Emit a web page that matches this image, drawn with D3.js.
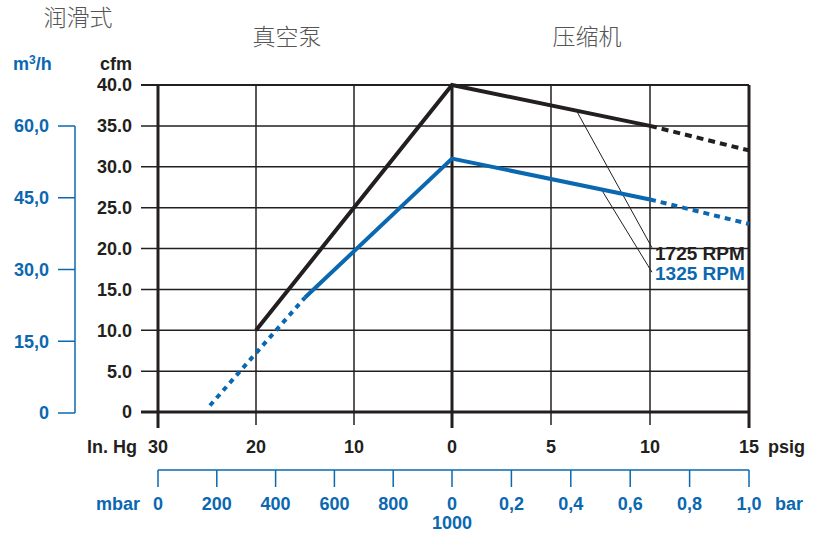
<!DOCTYPE html>
<html><head><meta charset="utf-8">
<script src="https://cdn.jsdelivr.net/npm/d3@7"></script>
<style>
html,body{margin:0;padding:0;background:#fff;}
svg text{font-family:"Liberation Sans",Arial,sans-serif;}
</style></head>
<body><svg id="c" width="822" height="535"></svg>
<script>
// ---- data ----
const cfmTicks = [0, 5, 10, 15, 20, 25, 30, 35, 40];
const m3hTicks = [0, 15, 30, 45, 60];
const m3hLabels = ["0", "15,0", "30,0", "45,0", "60,0"];
const inHgTicks = [30, 20, 10, 0];
const psigTicks = [0, 5, 10, 15];
const mbarTicks = [0, 200, 400, 600, 800, 1000];
const mbarLabels = ["0", "200", "400", "600", "800", "0"];
const barTicks = [0, 0.2, 0.4, 0.6, 0.8, 1.0];
const barLabels = ["0", "0,2", "0,4", "0,6", "0,8", "1,0"];
const titles = ["润滑式", "真空泵", "压缩机"];
// series: side 'v' = vacuum (In. Hg), 'p' = pressure (psig)
const rpm1725Solid = [{s:"v",x:20,y:10},{s:"v",x:0,y:40},{s:"p",x:10,y:35}];
const rpm1725Dash  = [{s:"p",x:10,y:35},{s:"p",x:15,y:32}];
const rpm1325DashV = [{s:"v",x:24.7,y:0.8},{s:"v",x:15,y:14}];
const rpm1325Solid = [{s:"v",x:15,y:14},{s:"v",x:0,y:31},{s:"p",x:10,y:26}];
const rpm1325DashP = [{s:"p",x:10,y:26},{s:"p",x:15,y:23}];
const seriesNames = ["1725 RPM", "1325 RPM"];
const leaderFrom = [{s:"p",x:6.3,y:36.8},{s:"p",x:7.6,y:27.0}];
const leaderTo = [{s:"p",x:10.1,y:20.1},{s:"p",x:10.1,y:17.1}];

// ---- setup ----
const BLACK = "#231f20", BLUE = "#0a68b1";
const svg = d3.select("#c");
const y = d3.scaleLinear().domain([0, 40]).range([412, 85]);
const xV = d3.scaleLinear().domain([30, 0]).range([158, 452]);
const xP = d3.scaleLinear().domain([0, 15]).range([452, 749]);
const yM = d3.scaleLinear().domain([0, 60]).range([413, 126]);
const xMbar = d3.scaleLinear().domain([0, 1000]).range([158, 452]);
const xBar = d3.scaleLinear().domain([0, 1]).range([452, 749]);
const px = d => d.s === "v" ? xV(d.x) : xP(d.x);
const FS = 18;

// horizontal grid lines + left labels
const g = svg.append("g");
cfmTicks.forEach(t => {
  g.append("line").attr("x1", 141).attr("x2", 749).attr("y1", y(t)).attr("y2", y(t))
    .attr("stroke", BLACK).attr("stroke-width", t === 0 ? 3 : (t === 40 ? 2.2 : 1.5));
  g.append("text").attr("x", 132).attr("y", y(t)).attr("dy", "0.36em")
    .attr("text-anchor", "end").attr("font-size", FS).attr("font-weight", "bold")
    .attr("fill", BLACK).text(t === 0 ? "0" : t.toFixed(1));
});
// vertical grid lines
inHgTicks.forEach(t => {
  const thick = (t === 30 || t === 0);
  g.append("line").attr("x1", xV(t)).attr("x2", xV(t)).attr("y1", y(40)).attr("y2", thick ? 428 : 425)
    .attr("stroke", BLACK).attr("stroke-width", thick ? 3 : 1.5);
  g.append("text").attr("x", xV(t)).attr("y", 453).attr("text-anchor", "middle")
    .attr("font-size", FS).attr("font-weight", "bold").attr("fill", BLACK).text(t);
});
psigTicks.forEach(t => {
  const thick = (t === 15);
  if (t !== 0) g.append("line").attr("x1", xP(t)).attr("x2", xP(t)).attr("y1", y(40)).attr("y2", thick ? 428 : 425)
    .attr("stroke", BLACK).attr("stroke-width", thick ? 3 : 1.5);
  if (t !== 0) g.append("text").attr("x", xP(t)).attr("y", 453).attr("text-anchor", "middle")
    .attr("font-size", FS).attr("font-weight", "bold").attr("fill", BLACK).text(t);
});
g.append("text").attr("x", 137).attr("y", 453).attr("text-anchor", "end")
  .attr("font-size", FS).attr("font-weight", "bold").attr("fill", BLACK).text("In. Hg");
g.append("text").attr("x", 768).attr("y", 453)
  .attr("font-size", FS).attr("font-weight", "bold").attr("fill", BLACK).text("psig");

// unit labels
g.append("text").attr("x", 132).attr("y", 70).attr("text-anchor", "end")
  .attr("font-size", FS).attr("font-weight", "bold").attr("fill", BLACK).text("cfm");
const mt = g.append("text").attr("x", 13).attr("y", 70)
  .attr("font-size", FS).attr("font-weight", "bold").attr("fill", BLUE);
mt.append("tspan").text("m");
mt.append("tspan").attr("font-size", 12).attr("dy", -6).text("3");
mt.append("tspan").attr("dy", 6).text("/h");

// left blue m3/h axis
g.append("line").attr("x1", 75).attr("x2", 75).attr("y1", yM(60)).attr("y2", yM(0))
  .attr("stroke", BLUE).attr("stroke-width", 1.5);
m3hTicks.forEach((t, i) => {
  g.append("line").attr("x1", 58).attr("x2", 75).attr("y1", yM(t)).attr("y2", yM(t))
    .attr("stroke", BLUE).attr("stroke-width", 1.5);
  g.append("text").attr("x", 49).attr("y", yM(t)).attr("dy", "0.36em").attr("text-anchor", "end")
    .attr("font-size", FS).attr("font-weight", "bold").attr("fill", BLUE).text(m3hLabels[i]);
});

// bottom blue axis
g.append("line").attr("x1", xMbar(0)).attr("x2", xBar(1)).attr("y1", 470).attr("y2", 470)
  .attr("stroke", BLUE).attr("stroke-width", 1.5);
mbarTicks.forEach((t, i) => {
  g.append("line").attr("x1", xMbar(t)).attr("x2", xMbar(t)).attr("y1", 470).attr("y2", 487)
    .attr("stroke", BLUE).attr("stroke-width", 1.5);
  g.append("text").attr("x", xMbar(t)).attr("y", 510).attr("text-anchor", "middle")
    .attr("font-size", FS).attr("font-weight", "bold").attr("fill", BLUE).text(mbarLabels[i]);
});
g.append("text").attr("x", xMbar(1000)).attr("y", 529).attr("text-anchor", "middle")
  .attr("font-size", FS).attr("font-weight", "bold").attr("fill", BLUE).text("1000");
barTicks.forEach((t, i) => {
  if (i > 0) {
    g.append("line").attr("x1", xBar(t)).attr("x2", xBar(t)).attr("y1", 470).attr("y2", 487)
      .attr("stroke", BLUE).attr("stroke-width", 1.5);
    g.append("text").attr("x", xBar(t)).attr("y", 510).attr("text-anchor", "middle")
      .attr("font-size", FS).attr("font-weight", "bold").attr("fill", BLUE).text(barLabels[i]);
  }
});
g.append("text").attr("x", 140).attr("y", 510).attr("text-anchor", "end")
  .attr("font-size", FS).attr("font-weight", "bold").attr("fill", BLUE).text("mbar");
g.append("text").attr("x", 775).attr("y", 510)
  .attr("font-size", FS).attr("font-weight", "bold").attr("fill", BLUE).text("bar");

// Chinese titles
const cjk = '"Noto Sans CJK SC","Noto Sans CJK JP",sans-serif';
[[78, 26], [287, 45], [587, 45]].forEach((p, i) => {
  g.append("text").attr("x", p[0]).attr("y", p[1]).attr("text-anchor", "middle")
    .style("font-family", cjk).attr("font-size", 23).attr("font-weight", 300)
    .attr("fill", "#555").text(titles[i]);
});

// leader lines
leaderFrom.forEach((d, i) => {
  g.append("line").attr("x1", px(d)).attr("y1", y(d.y)).attr("x2", px(leaderTo[i])).attr("y2", y(leaderTo[i].y))
    .attr("stroke", BLACK).attr("stroke-width", 1);
});

// data lines
const line = d3.line().x(px).y(d => y(d.y));
const draw = (data, color, dash) => svg.append("path").datum(data).attr("d", line)
  .attr("fill", "none").attr("stroke", color).attr("stroke-width", 4)
  .attr("stroke-dasharray", dash || null);
draw(rpm1725Solid, BLACK);
draw(rpm1725Dash, BLACK, "7,5");
draw(rpm1325Solid, BLUE);
draw(rpm1325DashV, BLUE, "5,5");
draw(rpm1325DashP, BLUE, "6,5");

// series labels
svg.append("text").attr("x", 655).attr("y", 260).attr("font-size", 19).attr("font-weight", "bold")
  .attr("fill", BLACK).text(seriesNames[0]);
svg.append("text").attr("x", 655).attr("y", 280).attr("font-size", 19).attr("font-weight", "bold")
  .attr("fill", BLUE).text(seriesNames[1]);
</script></body></html>
